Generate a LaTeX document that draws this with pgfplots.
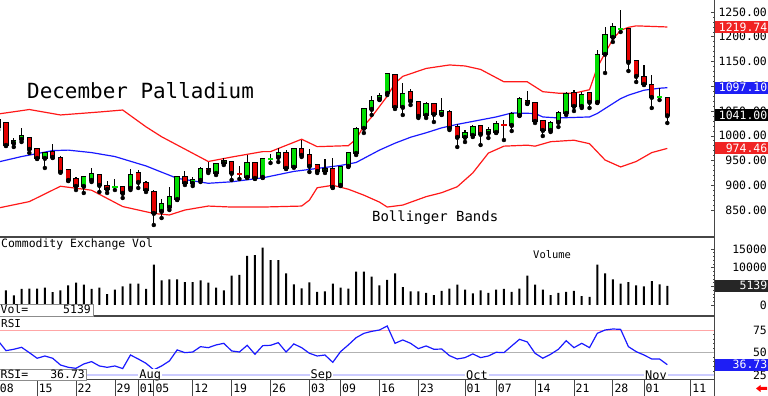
\documentclass[border=0pt]{standalone}
\usepackage{pgfplots}
\pgfplotsset{compat=1.18}
\usepackage{pgfplotstable}
\usepackage{fontspec}
\setmainfont{DejaVu Sans Mono}
\definecolor{cred}{RGB}{228,0,0}
\definecolor{cgreen}{RGB}{0,222,0}
\definecolor{bandred}{RGB}{255,25,25}
\definecolor{bandblue}{RGB}{25,25,255}
\definecolor{boxred}{RGB}{240,35,35}
\definecolor{boxblue}{RGB}{30,30,245}
\definecolor{axgray}{RGB}{70,70,70}
\newcommand{\fsz}[1]{\fontsize{#1}{#1}\selectfont}

% green candles: i open high low close
\pgfplotstableread{
i O H L C
2 985.4 995.5 977.3 989.4
3 993.5 1015.7 987.4 999.5
6 955.1 967.2 934.9 965.2
11 898.5 918.7 884.4 916.7
12 910.6 934.9 906.6 922.8
17 894.5 932.9 890.4 920.7
21 848 872.2 833.8 862.2
22 856.1 896.5 850 876.3
23 872.2 916.7 870.2 916.7
25 904.6 916.7 898.5 910.6
26 910.6 936.9 906.6 932.9
28 924.8 945 920.7 943
29 945 955.1 940.9 949
32 916.7 961.1 914.7 945
34 916.7 955.1 914.7 953.1
36 957.1 975.3 947 965.2
38 936.9 975.3 936.9 973.3
42 928.8 953.1 924.8 932.9
44 900.5 938.9 898.5 936.9
45 938.9 967.2 936.9 965.2
46 965.2 1017.7 961.1 1013.7
47 1015.7 1056.1 1005.6 1054.1
48 1054.1 1080.3 1042 1070.2
49 1074.3 1086.4 1072.2 1080.3
50 1086.4 1126.8 1082.3 1124.8
52 1058.1 1106.6 1042 1084.4
55 1042 1068.2 1035.9 1064.2
57 1044 1076.3 1042 1050
60 997.5 1011.6 987.4 1005.6
61 1001.5 1021.7 997.5 1017.7
63 1005.6 1017.7 995.5 1011.6
64 1007.6 1029.8 1005.6 1023.8
66 1021.7 1048 1009.6 1044
67 1042 1078.3 1039.9 1074.3
71 1011.6 1029.8 1007.6 1025.8
72 1027.8 1050 1017.7 1046
73 1046 1088.4 1042 1084.4
75 1060.1 1088.4 1056.1 1082.3
77 1068.2 1173.2 1066.2 1163.1
78 1165.2 1219.7 1126.8 1203.5
79 1199.5 1227.8 1189.4 1219.7
}\greentab

% red candles
\pgfplotstableread{
i O H L C
0 1031.8 1035.9 1011.6 1017.7
1 1025.8 1027.8 979.3 981.3
4 995.5 997.5 965.2 973.3
5 973.3 975.3 953.1 955.1
7 967.2 983.4 955.1 957.1
8 955.1 959.1 926.8 926.8
9 930.8 932.9 908.6 910.6
10 912.7 916.7 890.4 898.5
13 920.7 920.7 886.4 900.5
14 898.5 908.6 884.4 892.4
16 896.5 898.5 874.3 884.4
18 924.8 930.8 894.5 906.6
19 904.6 908.6 886.4 890.4
20 886.4 890.4 819.7 844
24 916.7 928.8 900.5 904.6
27 932.9 947 924.8 928.8
30 947 949 910.6 924.8
33 945 947 912.7 914.7
37 965.2 971.2 932.9 934.9
39 973.3 991.4 957.1 961.1
40 961.1 973.3 926.8 938.9
41 940.9 943 924.8 928.8
43 932.9 955.1 894.5 896.5
51 1122.7 1124.8 1054.1 1058.1
53 1088.4 1094.4 1062.1 1070.2
54 1068.2 1070.2 1035.9 1039.9
56 1064.2 1066.2 1027.8 1044
58 1048 1052 1011.6 1015.7
59 1017.7 1023.8 977.3 997.5
62 1019.7 1021.7 981.3 1003.6
68 1070.2 1090.4 1064.2 1066.2
69 1066.2 1068.2 1025.8 1029.8
70 1029.8 1031.8 999.5 1011.6
74 1086.4 1092.4 1050 1060.1
76 1086.4 1088.4 1056.1 1068.2
81 1215.7 1217.7 1130.8 1149
82 1151 1153 1108.6 1120.7
83 1118.7 1143 1102.5 1104.6
84 1102.5 1122.7 1056.1 1078.3
86 1076.3 1078.3 1025.8 1041
}\redtab

% doji (open = close)
\pgfplotstableread{
i O H L C
15 896.5 912.7 890.4 896.5
35 953 963.2 945 953
80 1215.7 1254 1209.6 1215.7
85 1078.3 1096.5 1072.2 1078.3
}\gdojitab
\pgfplotstableread{
i O H L C
31 922.8 938.9 912.7 922.8
65 1021.7 1031.8 991.4 1021.7
}\rdojitab

\pgfplotstableread{
i U
0 1044
4 1053
8 1042
13 1048
16 1052
19 1018
21 998
24 973
27 948
30 957
34 968
35 968
39 993
41 978
45 980
46 993
47 1020
48 1038
50 1080
51 1106
52 1120
55 1136
58 1143
60 1141
62 1134
65 1109
68 1109
70 1089
72 1086
74 1086
76 1093
77 1138
78 1167
79 1195
80 1213
81 1219
82 1222
86 1219.74
}\uppertab

\pgfplotstableread{
i M
0 947
3 958
7 970
9 971
12 966
15 958
19 939
23 914
27 904
30 907
34 915
38 928
42 936
44 940
46 946
49 971
51 985
53 997
55 1006
57 1016
59 1023
64 1038
66 1046
69 1045
70 1038
72 1036
76 1038
77 1045
78 1055
80 1075
81 1082
83 1092
85 1096
86 1097.10
}\midtab

\pgfplotstableread{
i D
0 854
4 867
8 898
12 890
16 857
20 843
22 840
24 850
27 858
30 856
34 856
39 858
40 870
41 895
43 900
45 892
47 880
49 866
50 856
52 860
55 877
57 885
59 897
61 925
63 965
65 979
68 981
69 979
71 988
74 991
76 984
78 951
80 937
82 948
84 966
86 974.46
}\lowertab

\pgfplotstableread{
i V
1 3950
2 2550
3 4290
4 4390
5 4390
6 4660
7 3420
8 3950
9 5260
10 5970
11 5450
12 4290
13 4660
14 2890
15 4130
16 5000
17 5710
18 5710
19 4290
20 10790
21 6580
22 6840
23 6840
24 6130
25 6130
26 6580
27 5970
28 4660
29 3950
30 7890
31 8080
32 13160
33 13340
34 15340
35 12030
36 12030
37 8500
38 5530
39 4470
40 6050
41 3500
42 3680
43 5710
44 4660
45 4390
46 8950
47 8950
48 7630
49 5260
50 6760
51 8500
52 4820
53 3680
54 3680
55 3240
56 2630
57 3760
58 4390
59 5450
60 4130
61 3080
62 3950
63 3240
64 4130
65 4290
66 3500
67 4390
68 7890
69 5450
70 4130
71 2630
72 3240
73 3500
74 3760
75 2370
76 2180
77 10790
78 8500
79 6840
80 5710
81 6130
82 5260
83 5000
84 6390
85 5530
86 5139
}\voltab

\pgfplotstableread{
i R
0 63
1 52.2
2 53.7
3 55.9
4 50
5 43.8
6 46.3
7 43.8
8 36.4
9 33.8
10 32.7
11 37.5
12 40.1
13 35.3
14 33.8
15 35.3
16 32.4
17 47.4
18 43
19 38.2
20 31
21 35.3
22 40.8
23 53
24 50
25 50.7
26 56.6
27 55.5
28 58.5
29 60.3
30 51.9
31 50.7
32 58.1
33 48.2
34 57.7
35 58.1
36 61
37 50.7
38 59.6
39 55.5
40 49.3
41 46.3
42 47.4
43 39.3
44 51.1
45 58.5
46 66.5
47 71.3
48 73.5
49 75
50 79.4
51 60.3
52 64
53 60.3
54 54.4
55 57.4
56 53.7
57 54
58 46.7
59 43
60 44.5
61 48.6
62 44.5
63 46.3
64 50.4
65 50
66 57.4
67 64.7
68 61.8
69 49.3
70 43.8
71 48.2
72 53.7
73 63.2
74 55.5
75 60.3
76 55.5
77 71.3
78 75
79 76.1
80 75.7
81 56.6
82 51.1
83 47.4
84 43
85 43
86 36.73
}\rsitab

\pgfplotsset{
  panel/.style={
    scale only axis, width=714bp, xmin=0.23, xmax=92.0,
    clip=false, hide x axis,
    axis y line*=right,
    y axis line style={axgray, line width=1bp},
    tick align=inside,
    major tick length=3bp, minor tick length=1.5bp,
    every tick/.style={axgray, line width=0.5bp},
    yticklabel style={anchor=east, xshift=53bp, inner sep=0pt, font=\fsz{11.5}},
    /pgf/number format/assume math mode=true,
  },
  wick/.style={only marks, mark=none, error bars/.cd, y dir=plus, y explicit,
    error mark=none, error bar style={line width=1.1bp, black}},
  bodyout/.style={only marks, mark=none, error bars/.cd, y dir=plus, y explicit,
    error mark=none, error bar style={line width=5.4bp, black}},
  bodyin/.style={only marks, mark=none, error bars/.cd, y dir=plus, y explicit,
    error mark=none, error bar style={line width=3.6bp, #1}},
}

\begin{document}
\begin{tikzpicture}
\useasboundingbox (0,0) rectangle (768bp,396bp);

% ---------------- price panel ----------------
\begin{axis}[panel, at={(0,159bp)}, anchor=south west, height=237bp,
  ymin=795.5, ymax=1274.24, ytick={850,900,...,1250}, minor y tick num=4,
  yticklabel style={/pgf/number format/.cd, fixed, fixed zerofill, precision=2, 1000 sep={}}]
\addplot[bandred, line width=1.2bp] table[x=i,y=U] {\uppertab};
\addplot[bandblue, line width=1.2bp] table[x=i,y=M] {\midtab};
\addplot[bandred, line width=1.2bp] table[x=i,y=D] {\lowertab};
% wicks
\addplot[wick] table[x=i, y=L, y error expr=\thisrow{H}-\thisrow{L}] {\greentab};
\addplot[wick] table[x=i, y=L, y error expr=\thisrow{H}-\thisrow{L}] {\redtab};
\addplot[wick] table[x=i, y=L, y error expr=\thisrow{H}-\thisrow{L}] {\gdojitab};
\addplot[wick] table[x=i, y=L, y error expr=\thisrow{H}-\thisrow{L}] {\rdojitab};
% bodies
\addplot[bodyout] table[x=i, y expr=\thisrow{O}-1.6, y error expr=\thisrow{C}-\thisrow{O}+3.2] {\greentab};
\addplot[bodyin=cgreen] table[x=i, y=O, y error expr=\thisrow{C}-\thisrow{O}] {\greentab};
\addplot[bodyout] table[x=i, y expr=\thisrow{C}-1.6, y error expr=\thisrow{O}-\thisrow{C}+3.2] {\redtab};
\addplot[bodyin=cred] table[x=i, y=C, y error expr=\thisrow{O}-\thisrow{C}] {\redtab};
\addplot[only marks, mark=-, mark size=2.7bp, mark options={cgreen, line width=1.4bp}] table[x=i, y=C] {\gdojitab};
\addplot[only marks, mark=-, mark size=2.7bp, mark options={cred, line width=1.4bp}] table[x=i, y=C] {\rdojitab};
\coordinate (pu) at (axis cs:92,1219.74);
\coordinate (pm) at (axis cs:92,1097.10);
\coordinate (pc) at (axis cs:92,1041.00);
\coordinate (pl) at (axis cs:92,974.46);
\end{axis}

% ---------------- volume panel ----------------
\begin{axis}[panel, at={(0,80bp)}, anchor=south west, height=79bp,
  ymin=-2947, ymax=18215, ytick={0,5000,10000,15000}, minor y tick num=4,
  scaled y ticks=false,
  yticklabel style={/pgf/number format/.cd, fixed, 1000 sep={}}]
\addplot[ybar, bar width=2bp, fill=black, draw=none] table[x=i, y=V] {\voltab};
\coordinate (pv) at (axis cs:92,5139);
\end{axis}

% ---------------- RSI panel ----------------
\begin{axis}[panel, at={(0,16bp)}, anchor=south west, height=64bp,
  ymin=19.8, ymax=90.45, ytick={25,50,75}, minor y tick num=4]
\draw[red!35, line width=0.6bp] (axis cs:0.23,75) -- (axis cs:92,75);
\draw[black!30, line width=0.8bp] (axis cs:0.23,50) -- (axis cs:92,50);
\draw[blue!20, line width=1.6bp] (axis cs:0.23,25) -- (axis cs:92,25);
\addplot[bandblue, line width=1.2bp] table[x=i, y=R] {\rsitab};
\node[anchor=west, fill=white, inner xsep=1bp, inner ysep=0.5bp, font=\fsz{12}] at (axis cs:18,25) {Aug};
\node[anchor=west, fill=white, inner xsep=1bp, inner ysep=0.5bp, font=\fsz{12}] at (axis cs:40,25) {Sep};
\node[anchor=west, fill=white, inner xsep=1bp, inner ysep=0.5bp, font=\fsz{12}] at (axis cs:60,25) {Oct};
\node[anchor=west, fill=white, inner xsep=1bp, inner ysep=0.5bp, font=\fsz{12}] at (axis cs:83,25) {Nov};
\coordinate (pr) at (axis cs:92,36.73);
\end{axis}

% ---------------- date row ----------------
\begin{axis}[scale only axis, width=715.8bp, height=16bp, at={(-1.8bp,0)}, anchor=south west,
  xmin=0, xmax=92.0, ymin=0, ymax=1, axis line style={draw=none},
  ytick=\empty, major tick length=0pt,
  xtick={0,5,10,15,18,20,25,30,35,40,44,49,54,60,64,69,74,79,83,89},
  xticklabels={08,15,22,29,01,05,12,19,26,03,09,16,23,01,07,14,21,28,01,11},
  xmajorgrids, major grid style={axgray, line width=0.8bp},
  xticklabel style={anchor=west, xshift=1.5bp, yshift=8bp, inner sep=0pt, font=\fsz{11.5}}]
\end{axis}

% dividers
\draw[axgray, line width=1.6bp] (0,159bp) -- (714bp,159bp);
\draw[axgray, line width=1.6bp] (0,80bp) -- (714bp,80bp);
\draw[axgray, line width=1bp] (0,16bp) -- (714bp,16bp);
\draw[axgray, line width=1bp] (714bp,0) -- (714bp,16bp);

% right value boxes
\tikzset{vbox/.style={anchor=west, xshift=1bp, text=white, text width=51bp, align=right,
  inner xsep=1bp, inner ysep=0pt, minimum height=12bp, font=\fsz{11.5}}}
\node[vbox, fill=boxred] at (pu) {1219.74};
\node[vbox, fill=boxblue] at (pm) {1097.10};
\node[vbox, fill=black] at (pc) {1041.00};
\node[vbox, fill=boxred] at (pl) {974.46};
\node[vbox, fill=black!85] at (pv) {5139};
\node[vbox, fill=boxblue] at (pr) {36.73};

% texts
\node[anchor=base west, inner sep=0pt, font=\fsz{21}] at (27bp,297.7bp) {December Palladium};
\node[anchor=base west, inner sep=0pt, font=\fsz{14}] at (372bp,174bp) {Bollinger Bands};
\node[anchor=base west, inner sep=0pt, font=\fsz{11.5}] at (1bp,148.5bp) {Commodity Exchange Vol};
\node[anchor=base west, inner sep=0pt, font=\fsz{10.5}] at (533bp,137.7bp) {Volume};
\node[anchor=base west, inner sep=0pt, font=\fsz{11}] at (1bp,68.7bp) {RSI};

% Vol / RSI readout boxes
\draw[black!45, fill=white, line width=0.8bp] (-1bp,80bp) rectangle (93bp,92bp);
\node[anchor=base west, inner sep=0pt, font=\fsz{11.5}] at (0.5bp,82.5bp) {Vol=};
\node[anchor=base east, inner sep=0pt, font=\fsz{11.5}] at (91bp,82.5bp) {5139};
\draw[black!45, fill=white, line width=0.8bp] (-1bp,16bp) rectangle (86bp,27bp);
\node[anchor=base west, inner sep=0pt, font=\fsz{11.5}] at (0.5bp,18bp) {RSI=};
\node[anchor=base east, inner sep=0pt, font=\fsz{11.5}] at (85bp,18bp) {36.73};

% red arrow
\fill[red] (756bp,7.5bp) -- (760.5bp,11bp) -- (760.5bp,9bp) -- (767bp,9bp) -- (767bp,6bp) -- (760.5bp,6bp) -- (760.5bp,4bp) -- cycle;
\end{tikzpicture}
\end{document}
